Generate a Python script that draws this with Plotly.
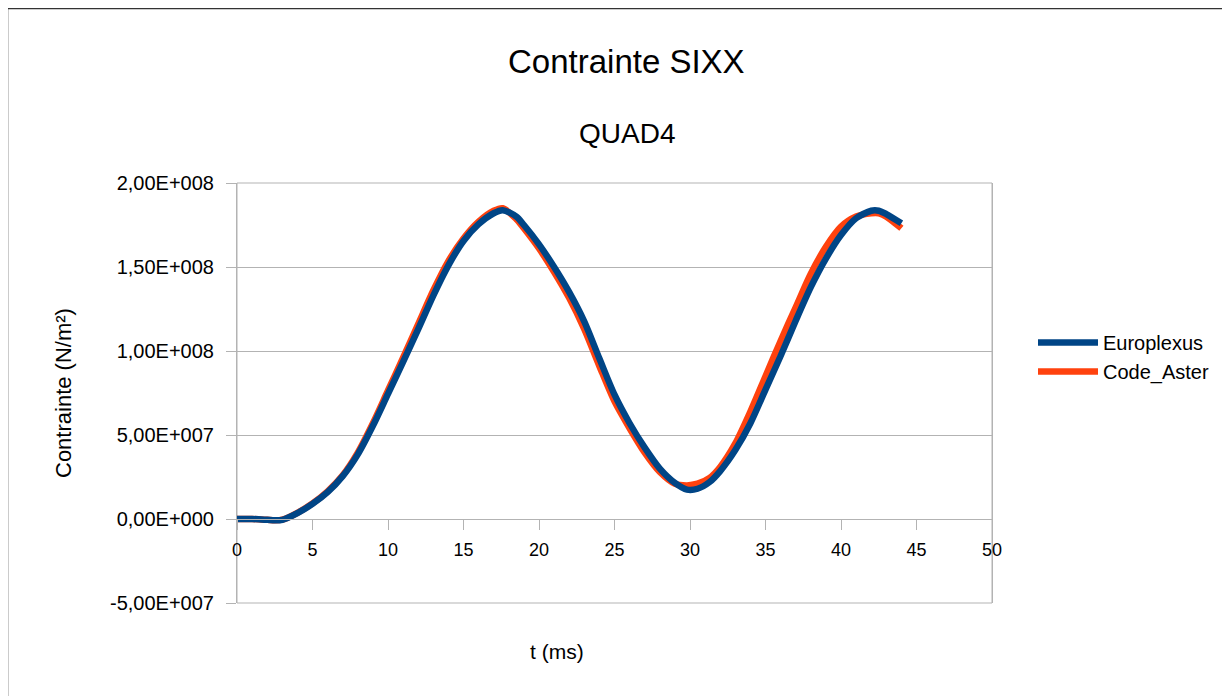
import plotly.graph_objects as go

# ---- data (values in 1e8 N/m2) ----
t_ms = [0, 1, 2, 2.5, 3, 4, 5, 6, 7, 8, 9, 10, 11, 12, 13, 14, 15, 16, 17, 17.6,
        18.5, 19, 20, 21, 22, 23, 24, 25, 26, 27, 28, 29, 29.8, 30.5, 31.3, 32, 33,
        34, 35, 36, 37, 38, 39, 40, 41, 42, 42.5, 43, 44]

europlexus = [0.0, 0.0, -0.005, -0.008, -0.005, 0.035, 0.09, 0.16, 0.255, 0.385, 0.555,
              0.745, 0.935, 1.13, 1.33, 1.51, 1.655, 1.755, 1.82, 1.838,
              1.80, 1.75, 1.635, 1.50, 1.35, 1.175, 0.955, 0.74, 0.57, 0.425, 0.30, 0.215,
              0.175, 0.18, 0.22, 0.285, 0.41, 0.57, 0.77, 0.97, 1.18, 1.38, 1.55, 1.69,
              1.79, 1.835, 1.835, 1.815, 1.76]

code_aster = [0.0, 0.0, -0.005, -0.008, -0.004, 0.037, 0.093, 0.165, 0.26, 0.395, 0.57,
              0.765, 0.96, 1.16, 1.36, 1.535, 1.67, 1.77, 1.835, 1.85,
              1.785, 1.73, 1.61, 1.47, 1.315, 1.13, 0.91, 0.70, 0.54, 0.395, 0.28, 0.21,
              0.20, 0.21, 0.245, 0.31, 0.45, 0.64, 0.85, 1.06, 1.26, 1.46, 1.62, 1.74,
              1.80, 1.82, 1.82, 1.80, 1.73]

y_tick_vals = [-5e7, 0, 5e7, 1e8, 1.5e8, 2e8]
y_tick_text = ["-5,00E+007", "0,00E+000", "5,00E+007", "1,00E+008", "1,50E+008", "2,00E+008"]
x_tick_vals = [0, 5, 10, 15, 20, 25, 30, 35, 40, 45, 50]

series_names = ["Europlexus", "Code_Aster"]
series_colors = ["#004586", "#ff420e"]

SCALE = 1e8

# ---- geometry helpers (screen pixel -> paper) ----
W, H = 1230, 696
OFF = 8  # page body margin
L, R, T, B = 237, 992, 183, 603  # plot area in screen pixels


def px(x):
    return (x - L) / (R - L)


def py(y):
    return (B - y) / (B - T)


fig = go.Figure()

# Code_Aster drawn first (below), Europlexus on top
fig.add_trace(go.Scatter(
    x=t_ms, y=[v * SCALE for v in code_aster], mode="lines", name=series_names[1],
    line=dict(color=series_colors[1], width=6.5, shape="spline", smoothing=0.8),
    legendrank=2,
))
fig.add_trace(go.Scatter(
    x=t_ms, y=[v * SCALE for v in europlexus], mode="lines", name=series_names[0],
    line=dict(color=series_colors[0], width=6.5, shape="spline", smoothing=0.8),
    legendrank=1,
))

grid = "#b3b3b3"
y_min, y_max = -5e7, 2e8

fig.update_layout(
    width=W - OFF, height=H - OFF,
    margin=dict(l=L - OFF, r=W - R, t=T - OFF, b=H - B),
    paper_bgcolor="white", plot_bgcolor="white",
    font=dict(family="Liberation Sans, Arial, sans-serif", color="black"),
    showlegend=True,
    legend=dict(
        x=px(1033), y=py(357), xanchor="left", yanchor="middle",
        font=dict(size=20), bgcolor="rgba(0,0,0,0)", tracegroupgap=0,
        itemwidth=60,
    ),
    xaxis=dict(
        range=[0, 50], tickvals=x_tick_vals, ticks="outside", ticklen=10,
        tickcolor=grid, tickfont=dict(size=18), showgrid=False, zeroline=False,
        showline=True, linecolor=grid, linewidth=1,
        anchor="free", position=(0 - y_min) / (y_max - y_min),
        ticklabelstandoff=4,
    ),
    yaxis=dict(
        range=[y_min, y_max], tickvals=y_tick_vals, ticktext=y_tick_text,
        ticks="outside", ticklen=10, tickcolor=grid, tickfont=dict(size=20),
        showgrid=True, gridcolor=grid, gridwidth=1, zeroline=False,
        showline=True, linecolor=grid, linewidth=1, mirror=True,
        ticklabelstandoff=8,
    ),
    shapes=[
        dict(type="rect", xref="paper", yref="paper", x0=0, x1=1, y0=0, y1=1,
             line=dict(color=grid, width=1), layer="below"),
        dict(type="rect", xref="paper", yref="paper", x0=px(7.5), x1=px(1245),
             y0=py(710), y1=py(8.5), line=dict(color="#333333", width=1.5)),
    ],
    annotations=[
        dict(text="Contrainte SIXX", x=px(626), y=py(62), xref="paper", yref="paper",
             showarrow=False, font=dict(size=33), xanchor="center", yanchor="middle"),
        dict(text="QUAD4", x=px(627), y=py(133), xref="paper", yref="paper",
             showarrow=False, font=dict(size=28), xanchor="center", yanchor="middle"),
        dict(text="Contrainte (N/m²)", x=px(63), y=py(393), xref="paper", yref="paper",
             showarrow=False, font=dict(size=22), textangle=-90,
             xanchor="center", yanchor="middle"),
        dict(text="t (ms)", x=px(557), y=py(651), xref="paper", yref="paper",
             showarrow=False, font=dict(size=21), xanchor="center", yanchor="middle"),
    ],
)

fig.write_html("out.html")
